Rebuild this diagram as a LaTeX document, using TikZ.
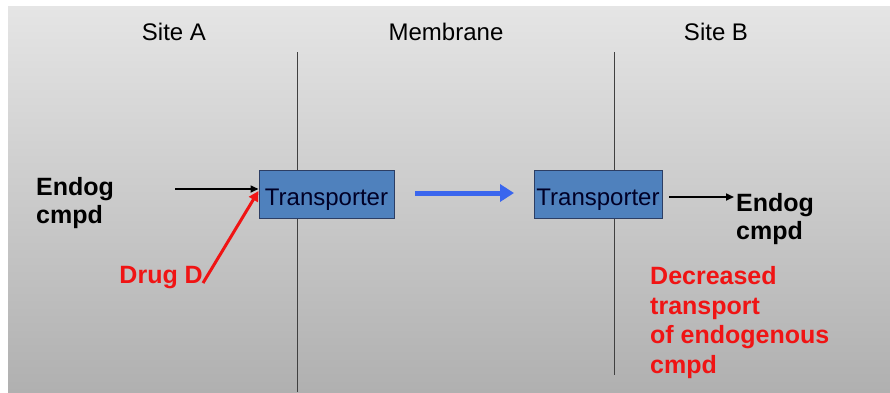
\documentclass[tikz,border=0pt]{standalone}
\usepackage{fontspec}
\setmainfont{Liberation Sans}
\usepackage{xcolor}
\usepackage{tikz}
\usetikzlibrary{arrows.meta}
\definecolor{bgtop}{RGB}{229,229,229}
\definecolor{bgbot}{RGB}{176,176,176}
\definecolor{boxfill}{RGB}{79,129,189}
\definecolor{boxline}{RGB}{44,62,100}
\definecolor{flowblue}{RGB}{58,102,238}
\definecolor{drugred}{RGB}{240,20,20}
\newcommand{\txt}{\fontsize{24}{28}\selectfont}
\newcommand{\btxt}{\fontsize{25}{28}\selectfont\bfseries}

\begin{document}
\begin{tikzpicture}[x=1pt,y=-1pt,
  heading/.style={anchor=base,inner sep=0pt,font=\txt},
  label/.style={anchor=north west,inner sep=0pt,align=left,font=\btxt},
  transp/.style={draw=boxline,fill=boxfill,line width=1pt,minimum height=48pt,
    inner sep=0pt,text height=24pt,text depth=2pt,text=black!85!blue,font=\txt},
  membrane/.style={black!75,line width=1pt}]
\useasboundingbox (0,0) rectangle (890,392);
\fill[white] (0,0) rectangle (890,392);
\shade[top color=bgtop,bottom color=bgbot] (8,6) rectangle (890,392);
% headings
\node[heading] (siteA) at (174,40) {Site A};
\node[heading] (memb) at (446,40) {Membrane};
\node[heading] (siteB) at (716,40) {Site B};
% membrane walls
\coordinate (wA1) at (297,52);
\coordinate (wA2) at (297,392);
\coordinate (wB1) at (614,52);
\coordinate (wB2) at (614,375);
\draw[membrane] (wA1) -- (wA2);
\draw[membrane] (wB1) -- (wB2);
% transporters
\node[transp,minimum width=135pt] (tA) at (326.5,194) {Transporter};
\node[transp,minimum width=128pt] (tB) at (598,194) {Transporter};
% compounds and drug
\node[label] (inA) at (36,177) {Endog\\cmpd};
\node[label] (outB) at (736,193) {Endog\\cmpd};
\node[label,text=drugred,anchor=base east] (drug) at (203,283) {Drug D};
\node[label,text=drugred,font=\fontsize{25}{29.7}\selectfont\bfseries] (note) at (650,266)
  {Decreased\\transport\\of endogenous\\cmpd};
% arrows
\coordinate (a0) at (175,189);
\coordinate (b0) at (415,193);
\coordinate (b1) at (514,193);
\coordinate (c0) at (669,197);
\coordinate (c1) at (734,197);
\draw[line width=1.6pt,-{Triangle[length=8pt,width=7pt]}] (a0) -- (tA.west |- a0);
\draw[drugred,line width=3pt,-{Triangle[length=10pt,width=10pt]}] (drug.base east) -- ([yshift=3pt]tA.west);
\draw[flowblue,line width=5pt,-{Triangle[length=14pt,width=17pt]}] (b0) -- (b1);
\draw[line width=1.6pt,-{Triangle[length=8pt,width=7pt]}] (c0) -- (c1);
\end{tikzpicture}
\end{document}
